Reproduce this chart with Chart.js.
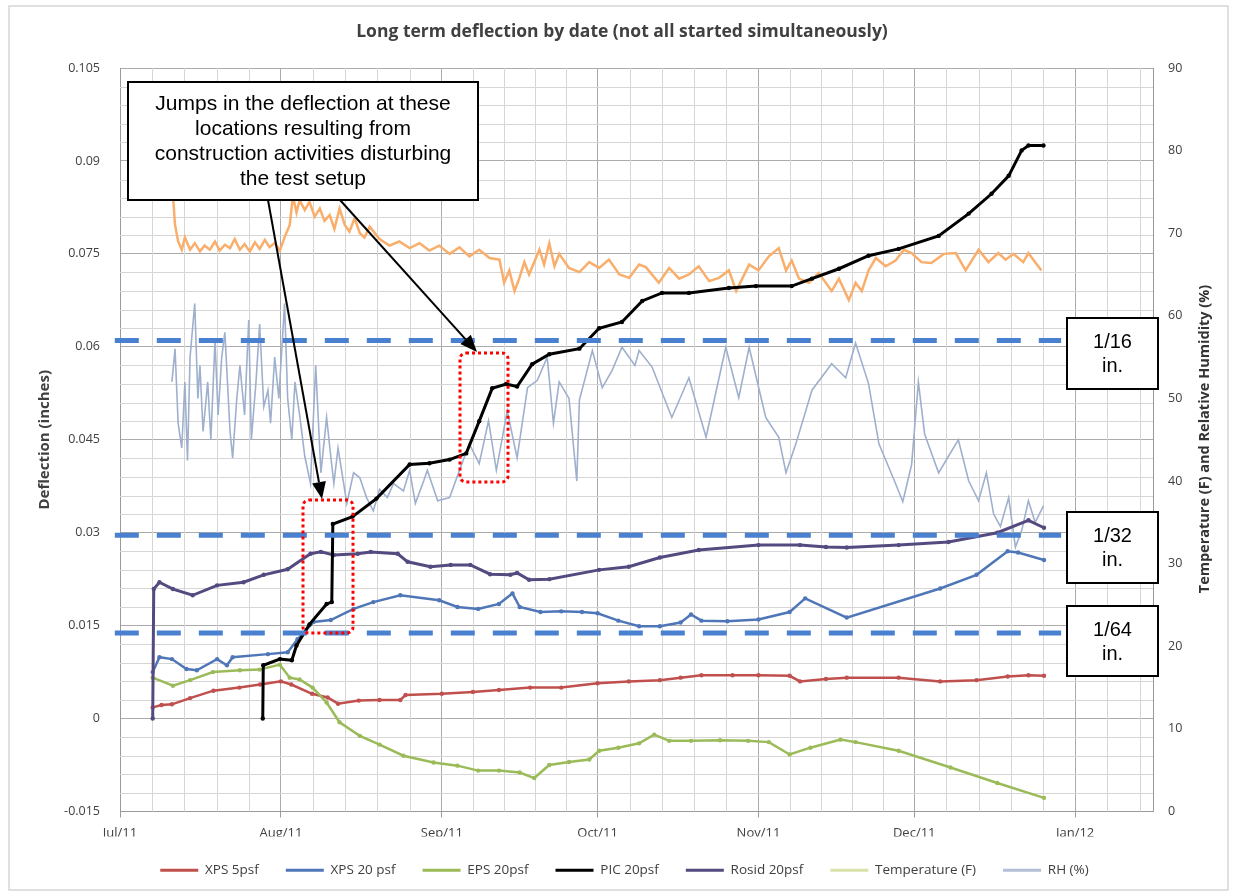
<!DOCTYPE html>
<html>
<head>
  <meta charset="utf-8">
  <title>Long term deflection by date</title>
  <script src="https://cdn.jsdelivr.net/npm/chart.js"></script>
  <style>
    html, body {
      margin: 0;
      padding: 0;
      background: #fff;
    }
    .wrap {
      width: 1236px;
      height: 895px;
    }
  </style>
</head>
<body>

<div class="wrap">
  <canvas id="deflChart" width="1236" height="895"></canvas>
</div>

<script>
  // x values are days counted from Jul 1, 2011
  const monthStarts = [0, 31, 62, 92, 123, 153, 184];
  const monthLabels = ['Jul/11', 'Aug/11', 'Sep/11', 'Oct/11', 'Nov/11', 'Dec/11', 'Jan/12'];
  const dayMax = 199;

  const seriesNames = ['XPS 5psf', 'XPS 20 psf', 'EPS 20psf', 'PIC 20psf', 'Rosid 20psf', 'Temperature (F)', 'RH (%)'];

  const xps5Days = [6.3, 8, 10, 13.5, 18, 23, 27, 31, 33, 37, 40, 42, 46, 50, 54, 55, 62, 68, 73, 79, 85, 92, 98, 104, 108, 112, 118, 123, 129, 131, 136, 140, 150, 158, 165, 171, 175, 178];
  const xps5Values = [0.0018, 0.0022, 0.0023, 0.0033, 0.0045, 0.005, 0.0055, 0.006, 0.0055, 0.004, 0.0034, 0.0024, 0.0029, 0.003, 0.003, 0.0038, 0.004, 0.0043, 0.0046, 0.005, 0.005, 0.0057, 0.006, 0.0062, 0.0066, 0.007, 0.007, 0.007, 0.0069, 0.006, 0.0064, 0.0066, 0.0066, 0.006, 0.0062, 0.0068, 0.007, 0.0069];

  const xps20Days = [6.3, 7.6, 10, 12.8, 14.8, 18.7, 20.6, 21.7, 28.5, 32.3, 34.2, 37.3, 40.6, 45, 48.8, 54, 61.5, 65, 69, 73, 75.6, 77, 81, 85, 89, 92, 96, 100, 104, 108, 110, 112, 117, 123, 129, 132, 140, 158, 165, 171, 173, 178];
  const xps20Values = [0.0075, 0.0099, 0.0096, 0.008, 0.0078, 0.0096, 0.0086, 0.0099, 0.0104, 0.0107, 0.0128, 0.0156, 0.0159, 0.0177, 0.0188, 0.0199, 0.0191, 0.018, 0.0177, 0.0185, 0.0202, 0.018, 0.0172, 0.0173, 0.0172, 0.017, 0.0158, 0.0149, 0.0149, 0.0155, 0.0168, 0.0158, 0.0157, 0.016, 0.0172, 0.0194, 0.0163, 0.021, 0.0232, 0.027, 0.0268, 0.0256];

  const eps20Days = [6.3, 10.2, 13.5, 17.9, 23.1, 26.9, 30.8, 32.7, 34.6, 37.1, 39.8, 42.3, 46.2, 50, 54.6, 60.4, 65, 69, 73, 77, 79.8, 82.7, 86.5, 90.4, 92.3, 96, 100, 102.9, 105.8, 110, 115.6, 121, 125, 129, 133, 138.8, 141.7, 150, 160, 169, 178];
  const eps20Values = [0.0066, 0.0053, 0.0062, 0.0075, 0.0078, 0.0079, 0.0087, 0.0066, 0.0063, 0.005, 0.0026, -0.0006, -0.0028, -0.0042, -0.006, -0.0071, -0.0076, -0.0084, -0.0084, -0.0087, -0.0096, -0.0075, -0.007, -0.0066, -0.0052, -0.0047, -0.004, -0.0026, -0.0036, -0.0036, -0.0035, -0.0036, -0.0038, -0.0058, -0.0047, -0.0034, -0.0038, -0.0052, -0.0079, -0.0104, -0.0128];

  const picDays = [27.5, 27.6, 30.8, 33.1, 34, 36.5, 39.8, 40.8, 41.0, 44.8, 49.4, 55.8, 59.6, 63.5, 66.7, 69.2, 71.7, 74.4, 76.5, 79.4, 82.7, 88.5, 92.3, 96.7, 100.6, 104.4, 109.6, 117.3, 122.5, 129.4, 133.3, 138.5, 144.2, 150, 157.7, 163.5, 167.9, 171.2, 173.7, 175, 177.9];
  const picValues = [0, 0.0086, 0.0096, 0.0094, 0.0118, 0.0152, 0.0185, 0.0188, 0.0314, 0.0326, 0.0355, 0.041, 0.0412, 0.0418, 0.0428, 0.048, 0.0533, 0.054, 0.0536, 0.0572, 0.0588, 0.0597, 0.063, 0.064, 0.0674, 0.0687, 0.0687, 0.0695, 0.0698, 0.0698, 0.071, 0.0726, 0.0747, 0.0758, 0.0779, 0.0815, 0.0847, 0.0876, 0.0917, 0.0925, 0.0925];

  const rosidDays = [6.3, 6.5, 7.6, 10.2, 14, 18.7, 23.8, 27.7, 32.3, 36.7, 38.7, 41.2, 45.8, 48.3, 53.5, 55.4, 59.8, 63.7, 67.5, 71.3, 75.2, 76.5, 78.8, 82.7, 92.3, 98, 104, 111.5, 123, 131, 136, 140, 150, 159.6, 169, 175, 178];
  const rosidValues = [0, 0.0209, 0.022, 0.0209, 0.0199, 0.0215, 0.022, 0.0232, 0.0241, 0.0266, 0.0269, 0.0264, 0.0266, 0.0269, 0.0266, 0.0253, 0.0245, 0.0248, 0.0248, 0.0233, 0.0232, 0.0235, 0.0224, 0.0225, 0.024, 0.0245, 0.026, 0.0272, 0.028, 0.028, 0.0277, 0.0276, 0.028, 0.0285, 0.030, 0.032, 0.0308];

  const tempDays = [10.0, 10.6, 11.2, 11.9, 12.5, 13.5, 14.4, 15.4, 16.3, 17.3,
    18.3, 19.2, 20.2, 21.2, 22.1, 23.1, 24.0, 25.0, 26.0, 26.9,
    27.9, 28.8, 29.8, 30.8, 31.7, 32.7, 33.3, 34.0, 34.6, 35.6,
    36.5, 37.5, 38.5, 39.4, 40.4, 41.3, 42.3, 43.3, 44.2, 45.2,
    46.2, 47.1, 48.1, 50.0, 51.9, 53.8, 55.8, 57.7, 59.6, 61.5,
    63.5, 65.4, 67.3, 69.2, 71.2, 73.1, 74.0, 75.0, 76.0, 76.9,
    77.9, 78.8, 80.8, 81.7, 82.7, 83.7, 84.6, 86.5, 88.5, 90.4,
    92.3, 94.2, 96.2, 98.1, 100.0, 101.3, 103.8, 105.8, 107.7, 109.6,
    111.5, 113.5, 115.4, 117.3, 118.7, 121.2, 123.0, 125.0, 126.9, 128.3,
    129.4, 130.8, 132.7, 134.6, 137.1, 138.5, 140.4, 141.7, 142.9, 144.2,
    145.6, 147.5, 149.4, 151.0, 152.5, 154.4, 156.3, 158.7, 161.0, 162.9,
    165.4, 167.3, 169.2, 170.6, 172.1, 174.0, 175.0, 176.3, 177.5];
  const tempValues = [76.5, 71, 69, 68, 69.5, 68, 68.8, 67.8, 68.5, 68,
    69, 67.9, 68.6, 68.2, 69.3, 68, 68.7, 67.8, 68.9, 68.1,
    69.2, 68.3, 68.8, 67.9, 69.5, 71, 74.5, 72.5, 74, 72.8,
    73.8, 72, 73, 71.5, 72.2, 70.5, 73, 71, 70.2, 71.8,
    70, 69.5, 70.8, 69.3, 68.5, 69, 68.2, 68.8, 67.9, 68.5,
    67.5, 68.3, 67.2, 68, 67, 66.8, 64, 65.5, 63, 64.5,
    66.5, 65, 68, 66.2, 68.8, 66, 67.5, 65.8, 65.3, 66.5,
    65.8, 66.8, 65, 64.6, 66.2, 65.9, 64, 65.8, 64.5, 65,
    66, 64.2, 64.6, 65.5, 63, 66.2, 65.5, 67.2, 68.2, 65.5,
    66.7, 64.5, 64, 65.2, 63, 64.5, 61.9, 64, 63, 65.5,
    67, 66, 66.7, 68, 67.6, 66.5, 66.4, 67.5, 67.6, 65.5,
    68, 66.5, 67.6, 66.8, 67.5, 66.5, 67.6, 66.5, 65.5];

  const rhDays = [10.0, 10.6, 11.2, 11.9, 12.5, 13.0, 13.5, 14.4, 15.0, 15.4,
    16.0, 16.9, 17.5, 18.3, 18.9, 19.6, 20.2, 21.2, 21.7, 22.5,
    23.1, 24.0, 24.8, 25.3, 26.2, 26.9, 27.7, 28.5, 29.0, 29.8,
    30.6, 31.7, 32.3, 33.1, 33.7, 34.6, 35.6, 36.7, 37.7, 38.7,
    39.8, 40.6, 41.2, 42.0, 43.7, 45.0, 46.2, 47.5, 48.8, 50.0,
    51.5, 52.7, 54.6, 55.8, 56.9, 58.5, 59.2, 61.2, 63.5, 65.8,
    67.3, 69.2, 71.0, 72.5, 74.6, 76.5, 78.5, 80.4, 82.3, 83.5,
    84.6, 86.5, 88.0, 88.5, 91.0, 92.9, 94.8, 96.7, 99.2, 100.0,
    102.5, 106.3, 109.6, 112.9, 116.7, 119.2, 121.2, 124.4, 126.9, 128.3,
    130.2, 133.3, 137.1, 139.8, 141.7, 144.2, 146.2, 149.2, 150.8, 152.5,
    153.8, 155.0, 157.7, 159.6, 161.5, 163.5, 165.4, 166.9, 168.3, 169.6,
    171.2, 172.5, 173.7, 175.0, 176.3, 177.9];
  const rhValues = [52, 56, 47, 44, 52, 42.5, 55, 61.5, 50, 54,
    46, 52, 45, 57, 48, 55, 58, 46, 42.8, 50,
    54, 48, 59.5, 45, 52, 59, 49, 51, 47, 55,
    50, 61.5, 50, 45, 52, 48, 43, 39.7, 54, 41,
    47.7, 43, 39.7, 44, 37.3, 41, 40.4, 38, 36.4, 39,
    38, 39.7, 38.8, 41.3, 37.3, 40, 41.3, 37.6, 38, 42,
    44.5, 42.1, 47.3, 41.3, 48.5, 42.8, 51.3, 52.2, 55, 47,
    52, 50, 40, 49.8, 55.8, 51.3, 53.4, 56.2, 54, 55.8,
    53.8, 47.7, 52.5, 45.3, 56.2, 50.1, 56.2, 47.7, 45.3, 41,
    44.5, 51, 54.2, 52.5, 56.7, 51.8, 44.5, 40, 37.5, 42,
    52, 45.7, 41, 43, 45, 40, 37.6, 41, 36, 34.5,
    38, 32, 34, 37.6, 35, 37];

  // hand drawn dashed guide lines (1/16, 1/32, 1/64 in.) as placed in the picture
  const guideValues = [0.061, 0.0296, 0.0138];
  const guideSpan = [-1, 181.3];
  const guideLabels = ['1/16', '1/32', '1/64'];

  const fontFam = '"Open Sans", "DejaVu Sans", sans-serif';
  const textGray = '#404040';
  const majorGrid = '#ababab';
  const minorGrid = '#d6d6d6';

  function pairs(days, vals) {
    return days.map((d, i) => ({ x: d, y: vals[i] }));
  }

  // minor grid: 4 lines inside each month, 4 between deflection ticks
  const xMinor = [];
  for (let i = 0; i < monthStarts.length - 1; i++) {
    const len = monthStarts[i + 1] - monthStarts[i];
    for (let k = 1; k < 5; k++) xMinor.push(monthStarts[i] + k * len / 5);
  }
  xMinor.push(184 + 6.2, 184 + 12.4);

  const yMajor = [];
  const yMinor = [];
  for (let k = -5; k <= 35; k++) {
    if (k % 5 === 0) yMajor.push(k * 3 / 1000);
    else yMinor.push(k * 3 / 1000);
  }

  function line(label, days, vals, color, width, order, radius) {
    return {
      label: label,
      data: pairs(days, vals),
      borderColor: color,
      backgroundColor: color,
      borderWidth: width,
      pointRadius: radius,
      pointBorderWidth: 0,
      pointBackgroundColor: color,
      tension: 0,
      order: order,
      yAxisID: 'y'
    };
  }

  const datasets = [
    line(seriesNames[0], xps5Days, xps5Values, '#c0504d', 2.5, 6, 2.2),
    line(seriesNames[1], xps20Days, xps20Values, '#4f77b8', 2.5, 5, 2.2),
    line(seriesNames[2], eps20Days, eps20Values, '#9bbb59', 2.5, 4, 2.2),
    line(seriesNames[3], picDays, picValues, '#000000', 3, 2, 2.2),
    line(seriesNames[4], rosidDays, rosidValues, '#554a80', 3, 3, 2.2),
    Object.assign(line(seriesNames[5], tempDays, tempValues, '#f9ae6b', 2.5, 8, 0), { yAxisID: 'y1' }),
    Object.assign(line(seriesNames[6], rhDays, rhValues, '#9eb0cd', 1.6, 9, 0), { yAxisID: 'y1' })
  ];

  guideValues.forEach((v, i) => {
    datasets.push({
      label: 'guide ' + guideLabels[i],
      data: [{ x: guideSpan[0], y: v }, { x: guideSpan[1], y: v }],
      borderColor: '#4a80d0',
      borderWidth: 5,
      borderDash: [24, 18],
      pointRadius: 0,
      clip: false,
      order: 0,
      yAxisID: 'y'
    });
  });

  const legendColors = ['#c0504d', '#4f77b8', '#9bbb59', '#000000', '#554a80', '#d9e2a8', '#b3bfd6'];

  function drawArrow(ctx, x1, y1, x2, y2) {
    const ang = Math.atan2(y2 - y1, x2 - x1);
    const headLen = 17, headW = 7;
    const bx = x2 - headLen * Math.cos(ang);
    const by = y2 - headLen * Math.sin(ang);
    ctx.beginPath();
    ctx.moveTo(x1, y1);
    ctx.lineTo(bx, by);
    ctx.stroke();
    ctx.beginPath();
    ctx.moveTo(x2, y2);
    ctx.lineTo(bx + headW * Math.sin(ang), by - headW * Math.cos(ang));
    ctx.lineTo(bx - headW * Math.sin(ang), by + headW * Math.cos(ang));
    ctx.closePath();
    ctx.fill();
  }

  function textBox(ctx, x, y, w, h, lines, lineGap, firstY) {
    ctx.fillStyle = '#fff';
    ctx.fillRect(x, y, w, h);
    ctx.strokeStyle = '#000';
    ctx.lineWidth = 2;
    ctx.strokeRect(x, y, w, h);
    ctx.fillStyle = '#000';
    ctx.textAlign = 'center';
    ctx.textBaseline = 'middle';
    lines.forEach((t, i) => ctx.fillText(t, x + w / 2, y + firstY + i * lineGap));
  }

  const minorGridPlugin = {
    id: 'minorGrid',
    beforeDatasetsDraw(chart) {
      const { ctx, chartArea: a, scales } = chart;
      ctx.save();
      ctx.strokeStyle = minorGrid;
      ctx.lineWidth = 1;
      ctx.beginPath();
      xMinor.forEach(v => {
        const px = Math.round(scales.x.getPixelForValue(v)) + 0.5;
        ctx.moveTo(px, a.top);
        ctx.lineTo(px, a.bottom);
      });
      yMinor.forEach(v => {
        const py = Math.round(scales.y.getPixelForValue(v)) + 0.5;
        ctx.moveTo(a.left, py);
        ctx.lineTo(a.right, py);
      });
      ctx.stroke();
      ctx.restore();
    }
  };

  const overlay = {
    id: 'overlay',
    beforeDraw(chart) {
      const ctx = chart.ctx;
      ctx.save();
      ctx.fillStyle = '#fff';
      ctx.fillRect(0, 0, chart.width, chart.height);
      ctx.restore();
    },
    afterDraw(chart) {
      const ctx = chart.ctx;
      ctx.save();

      // chart frame
      ctx.strokeStyle = '#d6d6d6';
      ctx.lineWidth = 1.5;
      ctx.strokeRect(9, 6, 1219, 884);

      // title
      ctx.fillStyle = textGray;
      ctx.font = 'bold 17.5px ' + fontFam;
      ctx.textAlign = 'center';
      ctx.textBaseline = 'middle';
      ctx.fillText('Long term deflection by date (not all started simultaneously)', 622, 32);

      // right axis title, reads bottom to top
      ctx.save();
      ctx.translate(1205, 439);
      ctx.rotate(-Math.PI / 2);
      ctx.font = 'bold 14.5px ' + fontFam;
      ctx.fillStyle = '#333';
      ctx.fillText('Temperature (F) and Relative Humidity (%)', 0, 0);
      ctx.restore();

      // red dotted boxes around the jumps
      ctx.strokeStyle = '#ff0000';
      ctx.lineWidth = 3;
      ctx.setLineDash([3, 3]);
      ctx.beginPath();
      ctx.roundRect(303, 500, 50, 133, 6);
      ctx.stroke();
      ctx.beginPath();
      ctx.roundRect(460, 353, 48, 129, 6);
      ctx.stroke();
      ctx.setLineDash([]);

      // arrows
      ctx.strokeStyle = '#000';
      ctx.fillStyle = '#000';
      ctx.lineWidth = 2;
      drawArrow(ctx, 268, 200, 322, 499);
      drawArrow(ctx, 340, 200, 477, 352);

      // callout box
      ctx.font = '21px "Liberation Sans", Arial, sans-serif';
      textBox(ctx, 128, 82, 350, 118, [
        'Jumps in the deflection at these',
        'locations resulting from',
        'construction activities disturbing',
        'the test setup'
      ], 25, 22);

      // fraction boxes
      ctx.font = '20px "Liberation Sans", Arial, sans-serif';
      textBox(ctx, 1067, 318, 91, 71, ['1/16', 'in.'], 24, 24);
      textBox(ctx, 1067, 512, 91, 71, ['1/32', 'in.'], 24, 24);
      textBox(ctx, 1067, 606, 91, 70, ['1/64', 'in.'], 24, 24);

      ctx.restore();
    }
  };

  const ctx = document.getElementById('deflChart').getContext('2d');
  const chart = new Chart(ctx, {
    type: 'line',
    data: { datasets: datasets },
    plugins: [minorGridPlugin, overlay],
    options: {
      responsive: false,
      animation: false,
      devicePixelRatio: 1,
      layout: { padding: { left: 30, right: 17, top: 68, bottom: 8 } },
      plugins: {
        title: { display: false },
        tooltip: { enabled: false },
        legend: {
          position: 'bottom',
          labels: {
            usePointStyle: true,
            pointStyle: 'line',
            pointStyleWidth: 38,
            padding: 27,
            color: textGray,
            font: { family: fontFam, size: 13.5 },
            filter: item => item.datasetIndex < seriesNames.length,
            sort: (a, b) => a.datasetIndex - b.datasetIndex,
            generateLabels: c => {
              const items = Chart.defaults.plugins.legend.labels.generateLabels(c);
              items.forEach(it => {
                if (it.datasetIndex < legendColors.length) {
                  it.strokeStyle = legendColors[it.datasetIndex];
                  it.fillStyle = legendColors[it.datasetIndex];
                  it.lineWidth = 3;
                }
              });
              return items;
            }
          }
        }
      },
      scales: {
        x: {
          type: 'linear',
          min: 0,
          max: dayMax,
          afterBuildTicks: s => { s.ticks = monthStarts.map(v => ({ value: v })); },
          afterFit: s => { s.height = 25; },
          grid: { color: majorGrid, tickLength: 6, tickColor: '#9a9a9a' },
          border: { color: '#9a9a9a' },
          ticks: {
            autoSkip: false,
            maxRotation: 0,
            padding: 8,
            color: textGray,
            font: { family: fontFam, size: 13 },
            callback: v => monthLabels[monthStarts.indexOf(v)]
          }
        },
        y: {
          position: 'left',
          min: -0.015,
          max: 0.105,
          afterBuildTicks: s => { s.ticks = yMajor.map(v => ({ value: v })); },
          afterFit: s => { s.width = 90; },
          grid: { color: majorGrid, drawTicks: false },
          border: { color: '#9a9a9a' },
          ticks: {
            autoSkip: false,
            padding: 20,
            color: textGray,
            font: { family: fontFam, size: 12.5 },
            callback: v => String(Number(v.toFixed(3)))
          },
          title: {
            display: true,
            text: 'Deflection (inches)',
            color: textGray,
            font: { family: fontFam, size: 15, weight: 'bold' },
            padding: { top: 6, bottom: 0 }
          }
        },
        y1: {
          position: 'right',
          min: 0,
          max: 90,
          afterFit: s => { s.width = 66; },
          grid: { drawOnChartArea: false, drawTicks: false },
          border: { color: '#9a9a9a' },
          ticks: {
            stepSize: 10,
            padding: 15,
            color: textGray,
            font: { family: fontFam, size: 12.5 }
          }
        }
      }
    }
  });
</script>

</body>
</html>
